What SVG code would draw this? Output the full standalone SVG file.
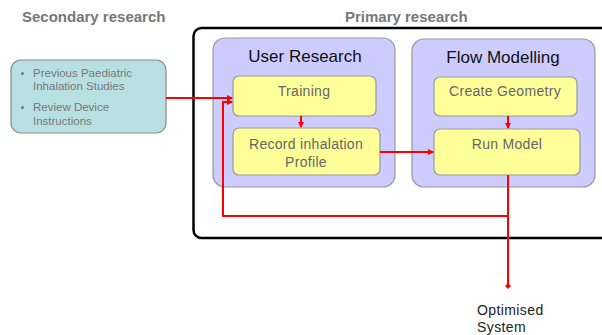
<svg xmlns="http://www.w3.org/2000/svg" width="602" height="335" viewBox="0 0 602 335">
  <style>
    .heading { font-family: "Liberation Sans", Arial, sans-serif; font-size: 15px; font-weight: bold; fill: #777; }
    .group { fill: #ccccff; stroke: #999; stroke-width: 1.2; }
    .step { fill: #ffff99; stroke: #999; stroke-width: 1.2; }
    .gtitle { font-family: "Liberation Sans", Arial, sans-serif; font-size: 17px; fill: #111; text-anchor: middle; }
    .stext { font-family: "Liberation Sans", Arial, sans-serif; font-size: 14px; fill: #666; text-anchor: middle; letter-spacing: 0.3px; }
    .note { font-family: "Liberation Sans", Arial, sans-serif; font-size: 11.5px; fill: #777; }
    .flow { fill: none; stroke: #ff0000; stroke-width: 2; }
    .label { font-family: "Liberation Sans", Arial, sans-serif; font-size: 14px; fill: #222; letter-spacing: 0.4px; }
  </style>
  <defs>
    <marker id="arrow" markerWidth="6" markerHeight="6" refX="5" refY="3" orient="auto" markerUnits="userSpaceOnUse">
      <path d="M0,0 L6,3 L0,6 Z" fill="#ff0000"/>
    </marker>
    <marker id="dot" markerWidth="6" markerHeight="6" refX="3" refY="3" orient="auto" markerUnits="userSpaceOnUse">
      <path d="M3,0 L6,3 L3,6 L0,3 Z" fill="#ff0000"/>
    </marker>
  </defs>

  <rect width="602" height="335" fill="#ffffff"/>

  <text class="heading" x="22" y="22">Secondary research</text>
  <text class="heading" x="345" y="22">Primary research</text>

  <!-- primary research frame -->
  <rect x="193.5" y="28" width="420" height="210" rx="8" fill="#ffffff" stroke="#000" stroke-width="2.5"/>

  <g id="secondary">
    <rect x="11" y="60" width="155" height="73" rx="10" fill="#b8e0e3" stroke="#888" stroke-width="1.2"/>
    <circle cx="22.5" cy="73.5" r="1.5" fill="#777"/>
    <text class="note" x="33" y="77">Previous Paediatric</text>
    <text class="note" x="33" y="90">Inhalation Studies</text>
    <circle cx="22.5" cy="107.5" r="1.5" fill="#777"/>
    <text class="note" x="33" y="111">Review Device</text>
    <text class="note" x="33" y="125">Instructions</text>
  </g>

  <g id="user-research">
    <rect class="group" x="213" y="38" width="182" height="149" rx="12"/>
    <text class="gtitle" x="305" y="62">User Research</text>
  </g>

  <g id="flow-modelling">
    <rect class="group" x="412" y="39" width="183" height="148" rx="12"/>
    <text class="gtitle" x="503" y="63">Flow Modelling</text>
  </g>

  <g id="training">
    <rect class="step" x="233" y="76" width="143" height="40" rx="6"/>
    <text class="stext" x="304" y="96">Training</text>
  </g>

  <g id="record">
    <rect class="step" x="233" y="128" width="147" height="47" rx="6"/>
    <text class="stext" x="306" y="149">Record inhalation</text>
    <text class="stext" x="306" y="167">Profile</text>
  </g>

  <g id="geometry">
    <rect class="step" x="434" y="77" width="143" height="39" rx="6"/>
    <text class="stext" x="505" y="96">Create Geometry</text>
  </g>

  <g id="run-model">
    <rect class="step" x="434" y="129" width="146" height="46" rx="6"/>
    <text class="stext" x="507" y="149">Run Model</text>
  </g>

  <g id="optimised">
    <text class="label" x="477" y="315">Optimised</text>
    <text class="label" x="477" y="332">System</text>
  </g>

  <g id="connectors">
    <path class="flow" d="M166,98 H232" marker-end="url(#arrow)"/>
    <path class="flow" d="M301,116 V127" marker-end="url(#arrow)"/>
    <path class="flow" d="M508,116 V128" marker-end="url(#arrow)"/>
    <path class="flow" d="M380,152 H433" marker-end="url(#arrow)"/>
    <path class="flow" d="M508,175 V216 H223 V102 H232" marker-end="url(#arrow)"/>
    <path class="flow" d="M508,216 V286" marker-end="url(#dot)"/>
  </g>
</svg>
